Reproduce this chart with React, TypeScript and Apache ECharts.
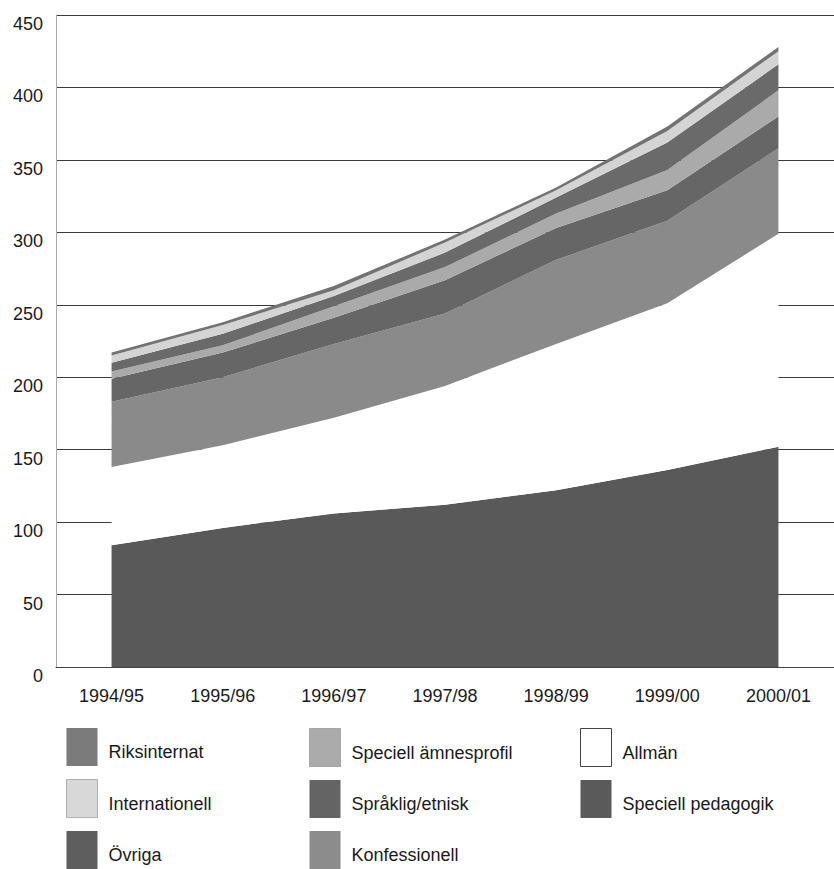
import React, { useEffect, useRef } from "react";
import * as echarts from "echarts";

const categories = ["1994/95", "1995/96", "1996/97", "1997/98", "1998/99", "1999/00", "2000/01"];

// stacked from bottom to top
const speciellPedagogik = [84, 96, 106, 112, 122, 136, 152];
const allman = [54, 57, 66, 82, 101, 115, 147];
const konfessionell = [45, 47, 51, 50, 58, 57, 59];
const spraklig = [16, 17, 18, 23, 22, 21, 22];
const amnesprofil = [5, 5, 8, 9, 10, 14, 18];
const ovriga = [6, 8, 7, 10, 11, 19, 18];
const internationell = [5, 6, 4, 7, 5, 8, 9];
const riksinternat = [2, 2, 3, 2, 2, 3, 3];

const yTicks = [0, 50, 100, 150, 200, 250, 300, 350, 400, 450];

const seriesDefs = [
  { name: "Speciell pedagogik", data: speciellPedagogik, color: "#595959" },
  { name: "Allmän", data: allman, color: "#ffffff" },
  { name: "Konfessionell", data: konfessionell, color: "#8a8a8a" },
  { name: "Språklig/etnisk", data: spraklig, color: "#666666" },
  { name: "Speciell ämnesprofil", data: amnesprofil, color: "#aaaaaa" },
  { name: "Övriga", data: ovriga, color: "#6a6a6a" },
  { name: "Internationell", data: internationell, color: "#d4d4d4" },
  { name: "Riksinternat", data: riksinternat, color: "#737373" },
];

const legendCols = [
  ["Riksinternat", "Internationell", "Övriga"],
  ["Speciell ämnesprofil", "Språklig/etnisk", "Konfessionell"],
  ["Allmän", "Speciell pedagogik"],
];

const legendStyles: Record<string, any> = {
  Riksinternat: { color: "#7b7b7b" },
  Internationell: { color: "#d8d8d8", borderColor: "#777", borderWidth: 1, borderType: "dotted" },
  "Övriga": { color: "#5e5e5e" },
  "Speciell ämnesprofil": { color: "#ababab", borderColor: "#777", borderWidth: 1, borderType: "dotted" },
  "Språklig/etnisk": { color: "#646464" },
  Konfessionell: { color: "#8c8c8c" },
  "Allmän": { color: "#ffffff", borderColor: "#444", borderWidth: 1 },
  "Speciell pedagogik": { color: "#5a5a5a" },
};

export default function App() {
  const ref = useRef<HTMLDivElement>(null);
  useEffect(() => {
    if (!ref.current) return;
    const chart = echarts.init(ref.current, null, { renderer: "svg" });
    const font = "'Liberation Sans', Arial, Helvetica, sans-serif";
    const legendLefts = [66, 309, 580];
    chart.setOption({
      animation: false,
      backgroundColor: "#ffffff",
      textStyle: { fontFamily: font },
      grid: { left: 56, top: 15, width: 783, height: 652 },
      xAxis: {
        type: "category",
        data: categories,
        boundaryGap: true,
        axisLine: { show: true, lineStyle: { color: "#444", width: 1 } },
        axisTick: { show: false },
        axisLabel: { fontSize: 18, color: "#1a1a1a", margin: 20, fontFamily: font },
      },
      yAxis: {
        type: "value",
        min: 0,
        max: 450,
        interval: 50,
        axisLine: { show: true, lineStyle: { color: "#aaa", width: 1 } },
        axisTick: { show: false },
        splitLine: { show: true, lineStyle: { color: "#3a3a3a", width: 1 } },
        axisLabel: {
          fontSize: 18,
          color: "#1a1a1a",
          margin: 13,
          verticalAlign: "top",
          lineHeight: 18,
          fontFamily: font,
          formatter: (v: number) => (yTicks.includes(v) ? String(v) : ""),
        },
      },
      legend: legendCols.map((col, i) => ({
        orient: "vertical",
        left: legendLefts[i],
        top: 728,
        width: 240,
        height: 141,
        padding: 0,
        itemWidth: 31,
        itemHeight: 38,
        itemGap: 13,
        icon: "rect",
        formatter: "{a|{name}}",
        textStyle: {
          fontSize: 18,
          color: "#1a1a1a",
          fontFamily: font,
          rich: {
            a: {
              fontSize: 18,
              color: "#1a1a1a",
              fontFamily: font,
              padding: [10, 0, 0, 6],
            },
          },
        },
        data: col.map((n) => ({ name: n, itemStyle: legendStyles[n] })),
        selectedMode: false,
      })),
      series: seriesDefs.map((s) => ({
        name: s.name,
        type: "line",
        stack: "total",
        data: s.data,
        color: s.color,
        showSymbol: false,
        symbol: "none",
        lineStyle: { width: 0, color: s.color },
        itemStyle: { color: s.color },
        areaStyle: { color: s.color, opacity: 1 },
        z: 3,
      })),
    });
    return () => chart.dispose();
  }, []);
  return (
    <div
      ref={ref}
      style={{ position: "absolute", left: 0, top: 0, width: 834, height: 869 }}
    />
  );
}
